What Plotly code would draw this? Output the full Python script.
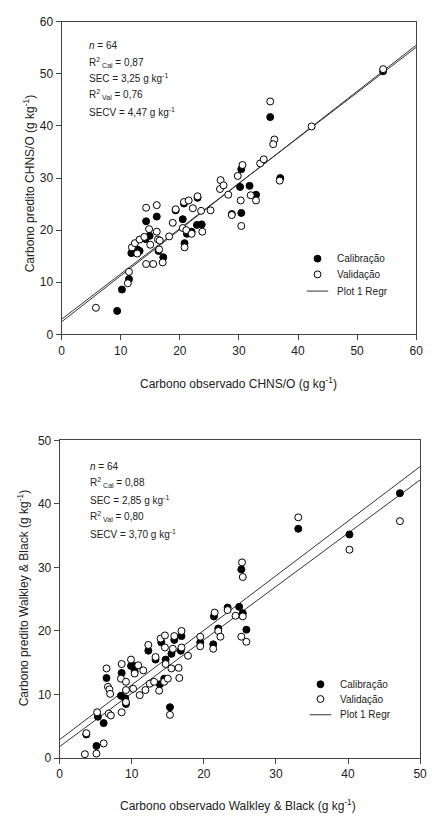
import plotly.graph_objects as go

W, H = 432, 823

# ---------------- data: panel 1 (CHNS/O) ----------------
cal1_x = [9.4, 10.2, 11.4, 11.8, 12.8, 13.2, 14.2, 14.3, 14.9, 16.1, 16.4, 17.2, 19.3, 20.5, 20.7,
          20.8, 21.2, 22.0, 22.9, 23.0, 23.7, 28.8, 30.2, 30.4, 30.4, 31.8, 32.9, 35.3, 37.0, 54.4]
cal1_y = [4.5, 8.6, 10.6, 15.6, 16.3, 16.0, 18.3, 21.7, 18.9, 22.6, 16.0, 14.8, 23.8, 22.1, 25.1,
          17.5, 19.3, 19.7, 21.0, 26.2, 21.1, 23.1, 28.3, 23.3, 31.7, 28.5, 26.8, 41.7, 30.0, 50.5]
val1_x = [5.8, 11.2, 11.4, 11.9, 12.4, 12.8, 13.2, 14.0, 14.3, 14.3, 14.8, 15.0, 15.5, 16.1, 16.1,
          16.3, 16.5, 16.6, 17.1, 18.2, 18.8, 19.3, 20.7, 21.5, 20.5, 20.8, 21.1, 22.0, 22.2, 23.0,
          23.6, 23.8, 25.2, 26.9, 26.8, 27.4, 28.2, 28.8, 29.8, 30.3, 30.4, 30.6, 32.0, 32.9, 33.6,
          34.2, 35.3, 36.0, 35.8, 36.9, 42.3, 54.4]
val1_y = [5.1, 9.8, 12.0, 16.7, 17.5, 15.5, 18.2, 18.7, 24.3, 13.5, 20.2, 17.2, 13.5, 24.8, 19.7,
          18.2, 16.3, 18.0, 13.8, 18.8, 21.4, 24.0, 25.4, 25.7, 20.4, 16.7, 20.0, 19.3, 24.2, 26.5,
          23.7, 19.7, 23.8, 29.6, 27.9, 28.6, 26.8, 22.9, 30.4, 25.7, 20.8, 32.5, 26.7, 25.7, 32.8,
          33.6, 44.7, 37.4, 36.5, 29.5, 39.9, 50.9]
reg1_intercepts = [2.4, 2.9]
reg1_slopes = [0.885, 0.870]
stats1 = ["<i>n</i> = 64", "R<sup>2</sup><sub> Cal</sub> = 0,87", "SEC = 3,25 g kg<sup>-1</sup>",
          "R<sup>2</sup><sub> Val</sub> = 0,76", "SECV = 4,47 g kg<sup>-1</sup>"]
ticks1 = [0, 10, 20, 30, 40, 50, 60]

# ---------------- data: panel 2 (Walkley & Black) ----------------
cal2_x = [3.7, 5.1, 5.3, 6.1, 6.5, 8.6, 8.5, 9.1, 9.2, 9.9, 10.3, 10.4, 12.3, 13.3, 13.9, 14.1,
          14.5, 14.7, 15.3, 15.5, 15.9, 16.9, 16.8, 19.5, 21.3, 21.4, 22.0, 23.3, 24.9, 25.4, 25.2,
          25.9, 33.1, 40.2, 47.2]
cal2_y = [3.7, 1.9, 6.5, 5.5, 12.6, 13.4, 9.8, 9.4, 8.5, 14.5, 14.5, 13.6, 16.9, 15.5, 11.6, 18.2,
          12.5, 15.5, 8.0, 16.4, 18.6, 19.2, 16.9, 18.2, 17.9, 22.3, 20.4, 23.7, 23.8, 22.8, 29.7,
          20.2, 36.1, 35.2, 41.7]
val2_x = [3.5, 3.7, 5.1, 5.2, 6.1, 6.5, 6.7, 6.9, 7.0, 6.8, 7.1, 8.6, 8.5, 8.6, 9.2, 9.2, 9.2, 9.9,
          10.2, 10.4, 10.9, 11.1, 11.6, 11.9, 12.3, 12.5, 13.3, 13.1, 13.8, 14.0, 14.6, 14.6, 14.5,
          14.7, 15.0, 15.3, 15.5, 15.7, 15.9, 16.5, 16.6, 16.9, 16.9, 17.8, 19.5, 19.5, 21.3, 21.5,
          22.0, 22.3, 23.3, 24.4, 25.2, 25.9, 25.3, 25.4, 25.4, 33.1, 40.2, 47.2]
val2_y = [0.6, 3.9, 0.7, 7.2, 2.3, 14.1, 11.2, 10.8, 10.1, 7.0, 6.7, 14.8, 12.5, 7.2, 10.7, 12.0,
          8.8, 15.5, 10.9, 13.3, 14.6, 9.9, 13.8, 10.7, 17.8, 11.7, 15.9, 12.0, 10.6, 18.8, 19.3,
          17.4, 12.0, 14.8, 12.5, 6.8, 14.1, 17.2, 19.2, 14.2, 12.6, 20.0, 17.4, 16.1, 19.1, 17.6,
          17.2, 22.9, 20.0, 19.1, 23.3, 22.4, 19.1, 18.3, 30.8, 28.5, 22.3, 37.9, 32.8, 37.3]
reg2_intercepts = [2.9, 1.8]
reg2_slopes = [0.86, 0.84]
stats2 = ["<i>n</i> = 64", "R<sup>2</sup><sub> Cal</sub> = 0,88", "SEC = 2,85 g kg<sup>-1</sup>",
          "R<sup>2</sup><sub> Val</sub> = 0,80", "SECV = 3,70 g kg<sup>-1</sup>"]
ticks2 = [0, 10, 20, 30, 40, 50]

legend_labels = ["Calibração", "Validação", "Plot 1 Regr"]

FONT = "Arial, Liberation Sans, sans-serif"
TXT = "#222222"
AX = "#444444"


def px(x):
    return x / W


def py(y):
    return 1 - y / H


fig = go.Figure()

mk_fill = dict(size=7, color="black", line=dict(color="black", width=1))
mk_open = dict(size=7, color="white", line=dict(color="black", width=1))

for k in range(2):
    fig.add_trace(go.Scatter(x=[ticks1[0], ticks1[-1]],
                             y=[reg1_intercepts[k] + reg1_slopes[k] * ticks1[0],
                                reg1_intercepts[k] + reg1_slopes[k] * ticks1[-1]],
                             mode="lines", line=dict(color="#333333", width=1),
                             xaxis="x", yaxis="y", showlegend=False, hoverinfo="skip"))
fig.add_trace(go.Scatter(x=cal1_x, y=cal1_y, mode="markers", marker=mk_fill, xaxis="x", yaxis="y",
                         showlegend=False))
fig.add_trace(go.Scatter(x=val1_x, y=val1_y, mode="markers", marker=mk_open, xaxis="x", yaxis="y",
                         showlegend=False))

for k in range(2):
    fig.add_trace(go.Scatter(x=[ticks2[0], ticks2[-1]],
                             y=[reg2_intercepts[k] + reg2_slopes[k] * ticks2[0],
                                reg2_intercepts[k] + reg2_slopes[k] * ticks2[-1]],
                             mode="lines", line=dict(color="#333333", width=1),
                             xaxis="x2", yaxis="y2", showlegend=False, hoverinfo="skip"))
fig.add_trace(go.Scatter(x=cal2_x, y=cal2_y, mode="markers", marker=mk_fill, xaxis="x2", yaxis="y2",
                         showlegend=False))
fig.add_trace(go.Scatter(x=val2_x, y=val2_y, mode="markers", marker=mk_open, xaxis="x2", yaxis="y2",
                         showlegend=False))

axis_common = dict(showgrid=False, zeroline=False, showline=True, linecolor=AX, linewidth=1,
                   mirror=True, ticks="outside", ticklen=5, tickcolor=AX, tickwidth=1,
                   tickfont=dict(family=FONT, size=12, color=TXT))

fig.update_layout(
    width=W, height=H, margin=dict(l=0, r=0, t=0, b=0),
    paper_bgcolor="white", plot_bgcolor="white", showlegend=False,
    xaxis=dict(domain=[px(60), px(423)], range=[0, 60], tickvals=ticks1, anchor="y", **axis_common),
    yaxis=dict(domain=[py(333), py(15)], range=[0, 60], tickvals=ticks1, anchor="x", **axis_common),
    xaxis2=dict(domain=[px(58), px(427)], range=[0, 50], tickvals=ticks2, anchor="y2", **axis_common),
    yaxis2=dict(domain=[py(764), py(441)], range=[0, 50], tickvals=ticks2, anchor="x2", **axis_common),
)

ann = []
# axis titles
ann.append(dict(text="Carbono observado CHNS/O (g kg<sup>-1</sup>)", x=px(241), y=py(382)))
ann.append(dict(text="Carbono observado Walkley & Black (g kg<sup>-1</sup>)", x=px(241), y=py(812)))
ann.append(dict(text="Carbono predito CHNS/O (g kg<sup>-1</sup>)", x=px(27), y=py(179), textangle=-90))
ann.append(dict(text="Carbono predito Walkley & Black (g kg<sup>-1</sup>)", x=px(20), y=py(602),
                textangle=-90))
for a in ann:
    a.update(xref="paper", yref="paper", showarrow=False, xanchor="center", yanchor="middle",
             font=dict(family=FONT, size=12, color=TXT))

stat_rows1 = [39, 56, 72, 89, 107]
stat_rows2 = [467, 484, 502, 518, 536]
for rows, txts, x0 in ((stat_rows1, stats1, 86), (stat_rows2, stats2, 87)):
    for r, t in zip(rows, txts):
        ann.append(dict(text=t, x=px(x0), y=py(r), xref="paper", yref="paper", showarrow=False,
                        xanchor="left", yanchor="middle", font=dict(family=FONT, size=10, color=TXT)))

shapes = []
legends = [(322, 340, [256, 272, 289]), (325, 343, [689, 704, 720])]
for mx, tx, rows in legends:
    for lab, r in zip(legend_labels, rows):
        ann.append(dict(text=lab, x=px(tx), y=py(r), xref="paper", yref="paper", showarrow=False,
                        xanchor="left", yanchor="middle", font=dict(family=FONT, size=10, color=TXT)))
    shapes.append(dict(type="circle", xref="paper", yref="paper",
                       x0=px(mx - 3.5), x1=px(mx + 3.5), y0=py(rows[0] + 3.5), y1=py(rows[0] - 3.5),
                       fillcolor="black", line=dict(color="black", width=1)))
    shapes.append(dict(type="circle", xref="paper", yref="paper",
                       x0=px(mx - 3.5), x1=px(mx + 3.5), y0=py(rows[1] + 3.5), y1=py(rows[1] - 3.5),
                       fillcolor="white", line=dict(color="black", width=1)))
    shapes.append(dict(type="line", xref="paper", yref="paper",
                       x0=px(mx - 11), x1=px(mx + 11), y0=py(rows[2]), y1=py(rows[2]),
                       line=dict(color="#333333", width=1)))

fig.update_layout(annotations=ann, shapes=shapes)
fig.write_html("out.html", config={"displayModeBar": False},
               post_script="document.body.style.margin='0px';")
